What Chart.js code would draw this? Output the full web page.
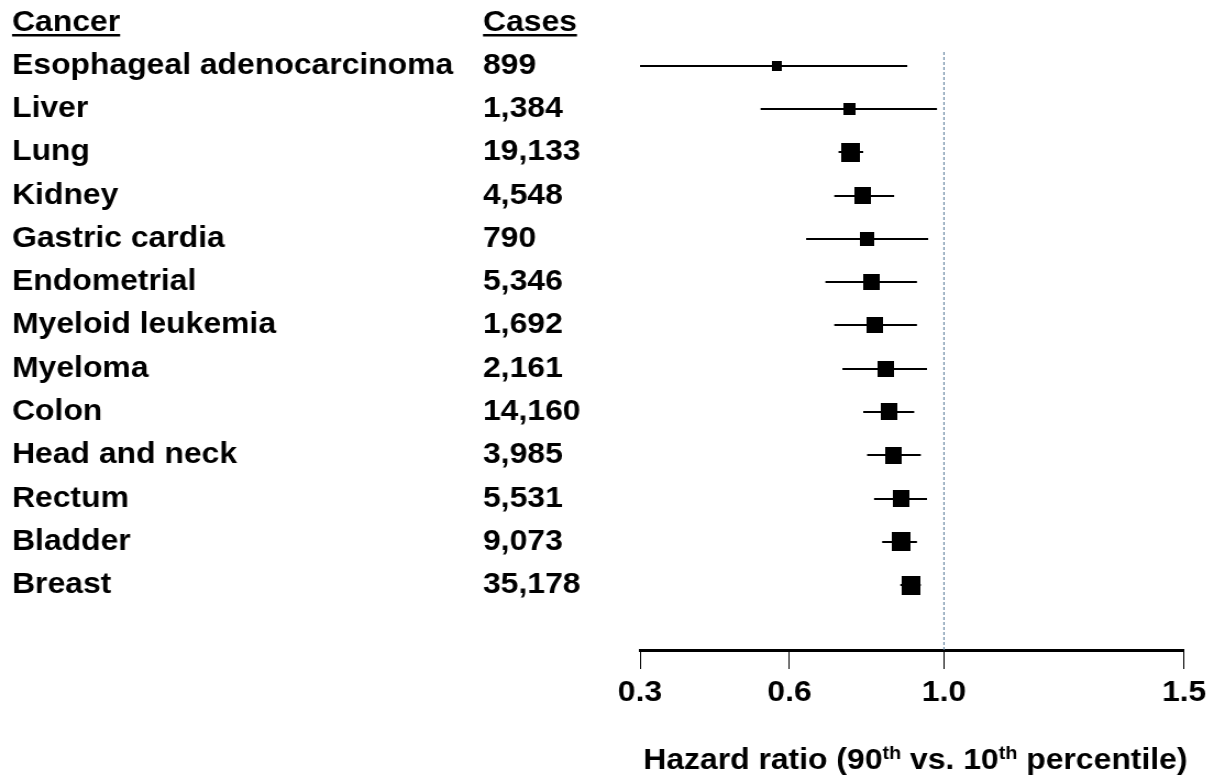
<!DOCTYPE html>
<html>
<head>
<meta charset="utf-8">
<script src="https://cdn.jsdelivr.net/npm/chart.js@4.4.1/dist/chart.umd.min.js"></script>
<style>
  html, body { margin: 0; padding: 0; background: #fff; overflow: hidden; }
  #wrap { width: 1104px; height: 776px; transform-origin: 0 0; }
  canvas { display: block; }
</style>
</head>
<body>
<div id="wrap"><canvas id="c" width="1104" height="776"></canvas></div>
<script>
// ---------------- DATA ----------------
const cancers = ['Esophageal adenocarcinoma', 'Liver', 'Lung', 'Kidney', 'Gastric cardia',
  'Endometrial', 'Myeloid leukemia', 'Myeloma', 'Colon', 'Head and neck', 'Rectum', 'Bladder', 'Breast'];
const cases = ['899', '1,384', '19,133', '4,548', '790', '5,346', '1,692', '2,161', '14,160',
  '3,985', '5,531', '9,073', '35,178'];
const hazardRatio = [0.574, 0.754, 0.759, 0.790, 0.801, 0.812, 0.822, 0.850, 0.859, 0.870, 0.888, 0.888, 0.914];
const ciLower     = [0.300, 0.542, 0.727, 0.716, 0.643, 0.693, 0.716, 0.737, 0.791, 0.801, 0.819, 0.840, 0.887];
const ciUpper     = [0.905, 0.982, 0.791, 0.871, 0.959, 0.930, 0.930, 0.956, 0.923, 0.940, 0.956, 0.930, 0.940];
const tickValues = [0.3, 0.6, 1.0, 1.5];
const tickLabels = ['0.3', '0.6', '1.0', '1.5'];
const referenceValue = 1.0;

// ---------------- STYLE / LAYOUT ----------------
const PAGE_W = 1214, CANVAS_W = 1104;
const SX = PAGE_W / CANVAS_W;               // the original figure's text is horizontally widened
document.getElementById('wrap').style.transform = `scaleX(${SX})`;
const markerSides = [10, 12, 19, 17, 14, 16, 16, 16, 17, 17, 17, 19, 19]; // px on the page
const tickStops = [0, 150 / 546, 305 / 546, 1]; // relative positions of the ticks along the axis
const FONT = '"Liberation Sans", Arial, Helvetica, sans-serif';
const FS = 29;

// Axis whose ticks are spaced piecewise-linearly, as in the original figure
class PiecewiseScale extends Chart.LinearScale {
  static id = 'piecewise';
  static defaults = {};
  buildTicks() { return tickValues.map(v => ({ value: v })); }
  _toDecimal(value) {
    const n = tickValues.length;
    if (value <= tickValues[0]) {
      return tickStops[0] + (value - tickValues[0]) / (tickValues[1] - tickValues[0]) * (tickStops[1] - tickStops[0]);
    }
    for (let i = 0; i < n - 1; i++) {
      const a = tickValues[i], b = tickValues[i + 1];
      if (value <= b || i === n - 2) {
        return tickStops[i] + (value - a) / (b - a) * (tickStops[i + 1] - tickStops[i]);
      }
    }
    return 1;
  }
  getPixelForValue(value) {
    if (value === null || isNaN(value)) return NaN;
    return this.getPixelForDecimal(this._toDecimal(value));
  }
  getValueForPixel(pixel) {
    const d = this.getDecimalForPixel(pixel);
    for (let i = 0; i < tickStops.length - 1; i++) {
      if (d <= tickStops[i + 1] || i === tickStops.length - 2) {
        return tickValues[i] + (d - tickStops[i]) / (tickStops[i + 1] - tickStops[i]) * (tickValues[i + 1] - tickValues[i]);
      }
    }
    return tickValues[tickValues.length - 1];
  }
}
Chart.register(PiecewiseScale);

// square markers (pre-compensated for the horizontal widening)
function squareMarker(side) {
  const c = document.createElement('canvas');
  c.width = Math.max(1, Math.round(side / SX));
  c.height = side;
  const g = c.getContext('2d');
  g.fillStyle = '#000';
  g.fillRect(0, 0, c.width, c.height);
  return c;
}

const rowLabels = cancers.concat(['']);
const caseLabels = cases.concat(['']);
const points = hazardRatio.map((v, i) => ({ x: v, y: i }));

const errorBars = {
  id: 'errorBars',
  beforeDatasetsDraw(chart) {
    const xs = chart.scales.x, ys = chart.scales.y;
    const ctx = chart.ctx;
    ctx.save();
    const xr = xs.getPixelForValue(referenceValue);
    ctx.strokeStyle = '#5f7f9c';
    ctx.lineWidth = 1;
    ctx.setLineDash([3, 2]);
    ctx.beginPath();
    ctx.moveTo(xr, 52);
    ctx.lineTo(xr, chart.chartArea.bottom);
    ctx.stroke();
    ctx.setLineDash([]);
    ctx.strokeStyle = '#000';
    ctx.lineWidth = 2;
    for (let i = 0; i < hazardRatio.length; i++) {
      const y = Math.round(ys.getPixelForValue(i));
      ctx.beginPath();
      ctx.moveTo(xs.getPixelForValue(ciLower[i]), y);
      ctx.lineTo(xs.getPixelForValue(ciUpper[i]), y);
      ctx.stroke();
    }
    ctx.restore();
  }
};

const headersAndTitle = {
  id: 'headersAndTitle',
  afterDraw(chart) {
    const ctx = chart.ctx;
    ctx.save();
    ctx.fillStyle = '#000';
    ctx.textBaseline = 'alphabetic';
    ctx.textAlign = 'left';
    ctx.font = `bold ${FS}px ${FONT}`;
    const heads = [['Cancer', chart.scales.yNames.left], ['Cases', chart.scales.y.left]];
    heads.forEach(([t, x]) => {
      ctx.fillText(t, x, 31);
      const w = ctx.measureText(t).width;
      ctx.fillRect(x, 34, w, 2.5);
    });
    const parts = [['Hazard ratio (90', false], ['th', true], [' vs. 10', false], ['th', true], [' percentile)', false]];
    const big = `bold ${FS}px ${FONT}`, small = `bold 18px ${FONT}`;
    let total = 0;
    parts.forEach(([t, sup]) => { ctx.font = sup ? small : big; total += ctx.measureText(t).width; });
    const ca = chart.chartArea;
    let x = (ca.left + ca.right) / 2 + 3 - total / 2;
    const base = 769;
    parts.forEach(([t, sup]) => {
      ctx.font = sup ? small : big;
      ctx.fillText(t, x, sup ? base - 10 : base);
      x += ctx.measureText(t).width;
    });
    ctx.restore();
  }
};

new Chart(document.getElementById('c'), {
  type: 'scatter',
  data: {
    datasets: [{
      data: points,
      pointStyle: markerSides.map(squareMarker),
      pointRadius: 10,
      backgroundColor: '#000',
      borderColor: '#000',
      borderWidth: 0,
      yAxisID: 'y'
    }]
  },
  options: {
    responsive: false,
    animation: false,
    devicePixelRatio: 1,
    layout: { padding: { left: 12 / SX, right: CANVAS_W - 1189 / SX, top: 44, bottom: 0 } },
    plugins: { legend: { display: false }, tooltip: { enabled: false } },
    scales: {
      x: {
        type: 'piecewise',
        min: 0.3,
        max: 1.5,
        border: { display: true, color: '#000', width: 3 },
        grid: { drawOnChartArea: false, drawTicks: true, tickLength: 19, tickWidth: 1, tickColor: '#000' },
        ticks: {
          autoSkip: false, maxRotation: 0, padding: 7, color: '#000',
          font: { family: FONT, size: FS, weight: 'bold' },
          callback: (v, i) => tickLabels[i]
        },
        afterFit: s => { s.height = 126; }
      },
      y: {
        type: 'category',
        labels: caseLabels,
        position: 'left',
        weight: 1,
        offset: true,
        grid: { display: false },
        border: { display: false },
        ticks: { crossAlign: 'far', color: '#000', autoSkip: false, font: { family: FONT, size: FS, weight: 'bold' } },
        afterFit: s => { s.width = (640 - 483) / SX; }
      },
      yNames: {
        type: 'category',
        labels: rowLabels,
        position: 'left',
        weight: 2,
        offset: true,
        grid: { display: false },
        border: { display: false },
        ticks: { crossAlign: 'far', color: '#000', autoSkip: false, font: { family: FONT, size: FS, weight: 'bold' } },
        afterFit: s => { s.width = (483 - 12) / SX; }
      }
    }
  },
  plugins: [errorBars, headersAndTitle]
});
</script>
</body>
</html>
